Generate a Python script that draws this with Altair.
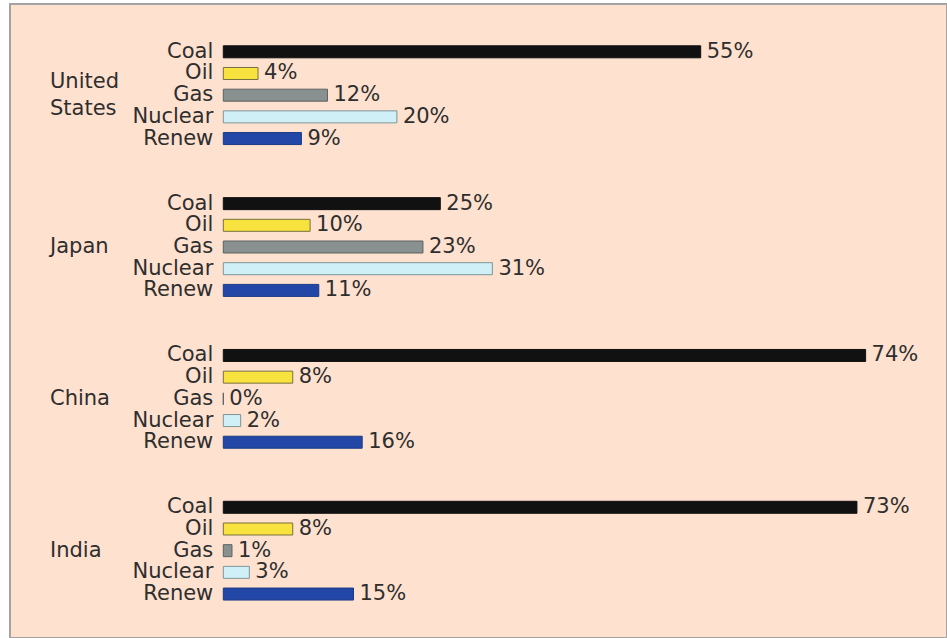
import altair as alt
import pandas as pd

# ---- data ----
countries = ["United States", "Japan", "China", "India"]
country_labels = ["United\nStates", "Japan", "China", "India"]
fuels = ["Coal", "Oil", "Gas", "Nuclear", "Renew"]
united_states = [55, 4, 12, 20, 9]
japan = [25, 10, 23, 31, 11]
china = [74, 8, 0, 2, 16]
india = [73, 8, 1, 3, 15]

fill_colors = ["#111111", "#f7e23e", "#899090", "#cff0f6", "#2347a6"]
stroke_colors = ["#111111", "#7a7040", "#5c6262", "#7d9599", "#1c3a86"]

series = [united_states, japan, china, india]
ROWS_PER_GROUP = 7
LABEL_LINE_ROWS = 1.245  # line spacing of country names, in row units

records = []
for gi, (c, vals) in enumerate(zip(countries, series)):
    for fi, (f, v) in enumerate(zip(fuels, vals)):
        records.append({"country": c, "fuel": f, "value": v,
                        "row": gi * ROWS_PER_GROUP + fi})
df = pd.DataFrame(records)

lab_records = []
for gi, lab in enumerate(country_labels):
    lines = lab.split("\n")
    n = len(lines)
    for k, line in enumerate(lines):
        lab_records.append({"label": line,
                            "row": gi * ROWS_PER_GROUP + 2 + (k - (n - 1) / 2) * LABEL_LINE_ROWS})
clabels = pd.DataFrame(lab_records)

W, H = 937, 634
x_scale = alt.Scale(domain=[-24.574, 83.376], nice=False, zero=False, padding=0)
y_scale = alt.Scale(domain=[-2.2038, 27.026], nice=False, zero=False, reverse=True, padding=0)

X = alt.X("value:Q", scale=x_scale, axis=None)
Y = alt.Y("row:Q", scale=y_scale, axis=None)

FONT = "DejaVu Sans"
TXT = "#2e2e2e"
FS = 21

bars = alt.Chart(df).mark_bar(orient="horizontal", size=12, strokeWidth=1).encode(
    x=X, y=Y,
    color=alt.Color("fuel:N", scale=alt.Scale(domain=fuels, range=fill_colors), legend=None),
    stroke=alt.Stroke("fuel:N", scale=alt.Scale(domain=fuels, range=stroke_colors), legend=None),
)

values = alt.Chart(df).transform_calculate(
    lbl="datum.value + '%'"
).mark_text(align="left", baseline="middle", dx=6, font=FONT, fontSize=FS, color=TXT).encode(
    x=X, y=Y, text="lbl:N"
)

cats = alt.Chart(df).mark_text(align="right", baseline="middle", dx=-10, font=FONT,
                               fontSize=FS, color=TXT).encode(
    x=alt.X("zero:Q", scale=x_scale, axis=None), y=Y, text="fuel:N"
).transform_calculate(zero="0")

ctry = alt.Chart(clabels).mark_text(align="left", baseline="middle", font=FONT, fontSize=FS,
                                    color=TXT).encode(
    x=alt.value(40), y=Y, text="label:N"
)

chart = alt.layer(bars, values, cats, ctry).properties(
    width=W, height=H,
    autosize=alt.AutoSizeParams(type="none"),
    padding={"left": 10, "top": 4, "right": 0, "bottom": 0},
    background="#ffffff",
).configure_view(fill="#fee1ce", stroke="#a3a3a3", strokeWidth=2)

chart.save("out.html", embed_options={"renderer": "svg", "actions": False})
